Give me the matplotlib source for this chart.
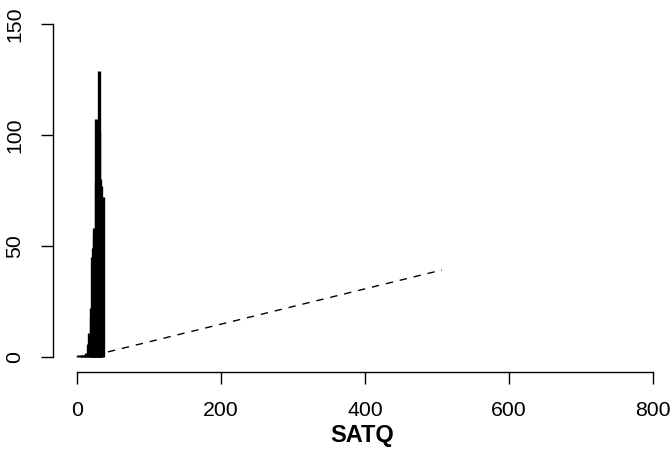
import matplotlib
matplotlib.use("Agg")
import matplotlib.pyplot as plt

# counts of SATQ values (spike plot, type "h")
satq_x = [2, 5, 7, 9, 11, 13, 15, 17, 19, 20, 21, 22, 23, 24, 26, 27, 28, 29, 30, 31, 32, 33, 34, 36]
satq_n = [1, 1, 1, 1, 1, 2, 6, 11, 18, 22, 45, 49, 54, 58, 79, 107, 100, 95, 102, 129, 80, 70, 77, 72]

# dashed reference line
line_x = [43, 507]
line_y = [2.3, 39.2]

plt.rcParams['font.family'] = ['Liberation Sans', 'DejaVu Sans']

fig = plt.figure(figsize=(6.72, 4.5), dpi=100)
# plot region placed like the R device
ax = fig.add_axes([53 / 672, (450 - 372) / 450, (672 - 53) / 672, (372 - 10.7) / 450])
ax.set_xlim(-33.3, 826.4)
ax.set_ylim(-6.76, 156)

ax.vlines(satq_x, 0, satq_n, colors="black", linewidth=2.4, capstyle="butt")
ax.plot(line_x, line_y, color="black", linewidth=1.0, dashes=(5.3, 5))

for side in ["top", "right"]:
    ax.spines[side].set_visible(False)
ax.spines["left"].set_bounds(0, 150)
ax.spines["bottom"].set_bounds(0, 800)
ax.spines["left"].set_linewidth(1.0)
ax.spines["bottom"].set_linewidth(1.0)

ax.set_xticks([0, 200, 400, 600, 800])
ax.set_yticks([0, 50, 100, 150])
ax.tick_params(axis="y", length=8.6, width=1.0, labelsize=15.3, pad=12)
ax.tick_params(axis="x", length=8.6, width=1.0, labelsize=15.3, pad=12)
for lab in ax.get_yticklabels():
    lab.set_rotation(90)
    lab.set_va("center")

ax.set_xlabel("SATQ", fontsize=17, fontweight="bold", labelpad=3)

fig.savefig("out.png", dpi=100)
